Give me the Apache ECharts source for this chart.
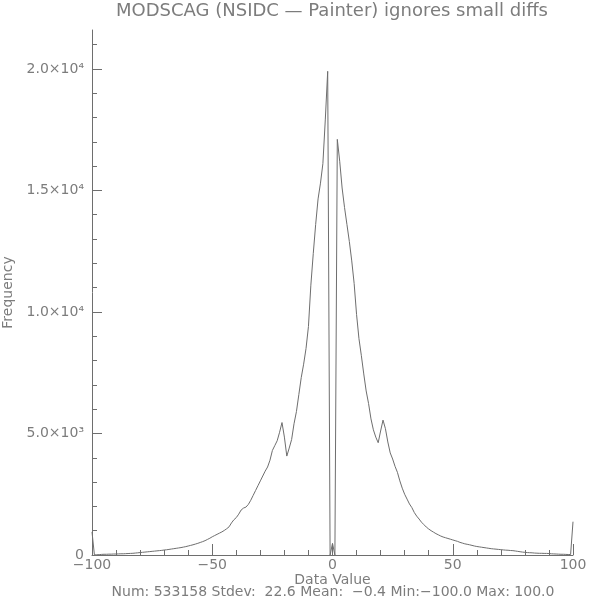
<!DOCTYPE html>
<html>
<head>
<meta charset="utf-8">
<script src="https://cdn.jsdelivr.net/npm/echarts@6/dist/echarts.min.js"></script>
<style>html,body{margin:0;padding:0;background:#fff}#c{width:600px;height:600px}</style>
</head>
<body>
<div id="c"></div>
<script>
const titleText = 'MODSCAG (NSIDC — Painter) ignores small diffs';
const footerText = 'Num: 533158 Stdev:  22.6 Mean:  −0.4 Min:−100.0 Max: 100.0';
const xName = 'Data Value';
const yName = 'Frequency';
const binStart = -100;
// histogram counts for bins -100 .. 100 (step 1)
const binCounts = [
  950, 5, 10, 15, 25, 30, 30, 35, 35, 40,            // -100..-91
  40, 45, 50, 50, 55, 60, 65, 70, 80, 90,            // -90..-81
  100, 110, 120, 130, 140, 150, 160, 170, 180, 190,  // -80..-71
  205, 215, 230, 245, 260, 275, 290, 305, 325, 345,  // -70..-61
  370, 395, 420, 450, 480, 515, 550, 590, 640, 690,  // -60..-51
  750, 800, 850, 900, 950, 1010, 1080, 1160, 1320, 1450, // -50..-41
  1540, 1680, 1850, 1930, 1970, 2080, 2250, 2450, 2650, 2850, // -40..-31
  3050, 3250, 3450, 3620, 3900, 4300, 4500, 4700, 5050, 5450, // -30..-21
  4850, 4070, 4400, 4750, 5400, 5900, 6600, 7300, 7850, 8500, // -20..-11
  9400, 11100, 12400, 13600, 14650, 15300, 16100, 17900, 19900, 0, // -10..-1
  480,                                               // 0
  0, 17100, 16200, 15100, 14300, 13600, 12900, 12100, 11170, 9900, // 1..10
  8900, 8200, 7450, 6750, 6230, 5600, 5150, 4850, 4620, 5100,      // 11..20
  5550, 5200, 4650, 4200, 3950, 3650, 3400, 3050, 2750, 2500,      // 21..30
  2300, 2100, 1950, 1750, 1600, 1480, 1350, 1250, 1150, 1070,      // 31..40
  1000, 940, 880, 830, 780, 740, 710, 680, 650, 620,               // 41..50
  590, 560, 520, 490, 460, 440, 420, 395, 370, 350,                // 51..60
  335, 320, 305, 290, 275, 260, 250, 240, 230, 220,                // 61..70
  210, 200, 195, 185, 180, 165, 150, 135, 120, 110,                // 71..80
  100, 95, 90, 80, 75, 70, 70, 65, 65, 60,                         // 81..90
  50, 45, 40, 35, 30, 30, 25, 20, 20, 1370                         // 91..100
];
const xTickValues = [-100, -50, 0, 50, 100];
const yMajorTicks = [0, 5000, 10000, 15000, 20000];
const yMajorLabels = ['0', '5.0×10³', '1.0×10⁴', '1.5×10⁴', '2.0×10⁴'];
const yMinorTicks = [1000, 2000, 3000, 4000, 6000, 7000, 8000, 9000, 11000, 12000, 13000, 14000, 16000, 17000, 18000, 19000, 21000];

const lineColor = '#6e6e6e';
const textColor = '#7c7c7c';
const fontFamily = '"DejaVu Sans", sans-serif';

const seriesData = binCounts.map((c, i) => [binStart + i, c]);

const chart = echarts.init(document.getElementById('c'), null, {renderer: 'canvas'});
chart.setOption({
  animation: false,
  backgroundColor: '#ffffff',
  grid: {left: 92, right: 27, top: 30, bottom: 45, containLabel: false, outerBoundsMode: 'none'},
  xAxis: {
    type: 'value', min: -100, max: 100, interval: 50,
    name: xName, nameLocation: 'middle', nameGap: 18, nameMoveOverlap: false,
    nameTextStyle: {color: textColor, fontSize: 14, fontFamily: fontFamily},
    axisLine: {show: true, onZero: false, lineStyle: {color: lineColor, width: 1}},
    axisTick: {show: true, inside: true, length: 11, lineStyle: {color: lineColor, width: 1}},
    minorTick: {show: true, splitNumber: 5, length: 5, lineStyle: {color: lineColor, width: 1}},
    axisLabel: {color: textColor, fontSize: 14, fontFamily: fontFamily, margin: 3,
      formatter: v => (xTickValues.indexOf(v) >= 0 ? (v < 0 ? '−' + Math.abs(v) : String(v)) : '')},
    splitLine: {show: false}, minorSplitLine: {show: false}
  },
  yAxis: [{
    type: 'value', min: 0, max: 21600, position: 'left',
    name: yName, nameLocation: 'middle', nameGap: 72,
    nameTextStyle: {color: textColor, fontSize: 14, fontFamily: fontFamily},
    axisLine: {show: true, onZero: false, lineStyle: {color: lineColor, width: 1}},
    axisTick: {show: true, inside: true, length: 10, customValues: yMajorTicks, lineStyle: {color: lineColor, width: 1}},
    axisLabel: {show: true, customValues: yMajorTicks, color: textColor, fontSize: 14, fontFamily: fontFamily, margin: 8,
      formatter: v => { const k = yMajorTicks.indexOf(v); return k >= 0 ? yMajorLabels[k] : ''; }},
    splitLine: {show: false}
  }, {
    type: 'value', min: 0, max: 21600, position: 'left', offset: 0,
    axisLine: {show: false, onZero: false},
    axisTick: {show: true, inside: true, length: 5, customValues: yMinorTicks, lineStyle: {color: lineColor, width: 1}},
    axisLabel: {show: false},
    splitLine: {show: false}
  }],
  graphic: [
    {type: 'text', x: 332, y: 11, silent: true,
     style: {text: titleText, fill: textColor, font: '18px ' + fontFamily, align: 'center', verticalAlign: 'middle'}},
    {type: 'text', x: 333, y: 592, silent: true,
     style: {text: footerText, fill: textColor, font: '14px ' + fontFamily, align: 'center', verticalAlign: 'middle'}}
  ],
  series: [{
    type: 'line', xAxisIndex: 0, yAxisIndex: 0,
    data: seriesData, showSymbol: false, symbol: 'none',
    lineStyle: {color: lineColor, width: 1},
    clip: false
  }]
});
</script>
</body>
</html>
